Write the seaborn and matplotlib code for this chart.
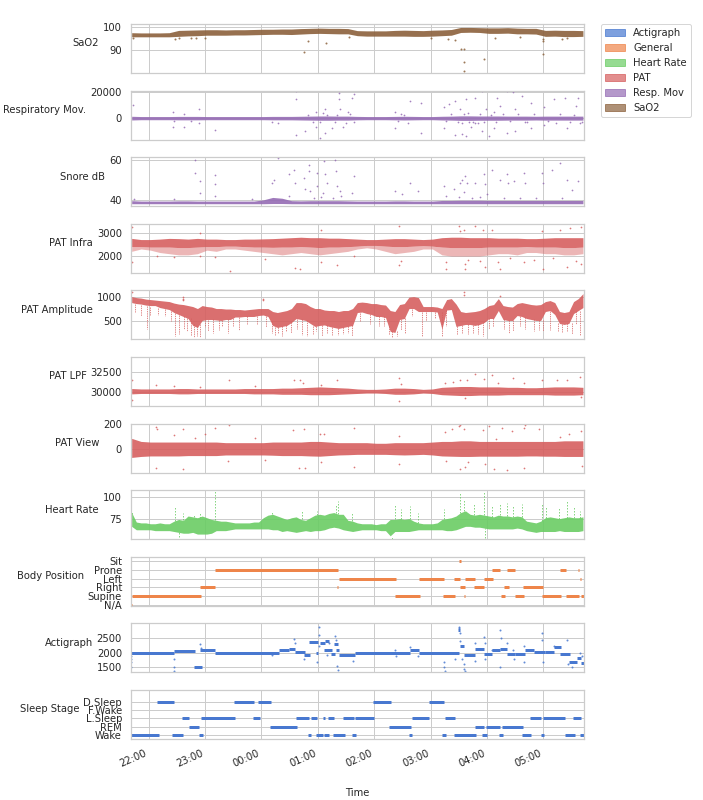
import numpy as np
import pandas as pd
import matplotlib
matplotlib.use('Agg')
import matplotlib.pyplot as plt
import matplotlib.dates as mdates
from matplotlib.patches import Patch
import seaborn as sns

sns.set_theme(style='whitegrid', palette='muted')
pal = sns.color_palette('muted')
C_ACT, C_GEN, C_HR, C_PAT, C_RESP, C_SAO2 = pal[0], pal[1], pal[2], pal[3], pal[4], pal[5]

# times are minutes relative to 22:00
T0 = pd.Timestamp('2021-03-01 22:00')
T_START, T_END = -18.7, 463.6
M10 = np.arange(-18, 463, 10)   # 10-minute sample grid
M5 = np.arange(-18, 463, 5)     # 5-minute sample grid

# ── SaO2 ────────────────────────────────────────────────────────────────────
sao2_hi = [97.6, 97.5, 97.5, 97.5, 97.6, 98.6, 98.7, 98.8, 98.9, 98.9,
           98.8, 98.9, 98.9, 99.0, 99.1, 99.1, 99.2, 99.2, 99.4, 99.5,
           99.6, 99.5, 99.5, 99.4, 98.5, 98.4, 98.4, 98.4, 98.6, 98.7,
           98.6, 98.5, 98.7, 98.8, 99.0, 99.9, 99.9, 99.8, 99.7, 99.7,
           99.8, 99.6, 99.5, 99.5, 98.6, 98.7, 98.6, 98.6, 98.5]
sao2_lo = [95.8, 95.8, 95.8, 95.8, 95.8, 96.0, 96.2, 96.3, 96.5, 96.5,
           96.5, 96.6, 96.6, 96.7, 96.8, 96.9, 96.9, 96.8, 97.0, 97.2,
           97.3, 97.2, 97.1, 97.1, 96.3, 96.1, 96.1, 96.1, 96.1, 96.1,
           96.0, 96.0, 96.1, 96.3, 96.5, 97.7, 97.8, 97.7, 97.3, 97.3,
           97.4, 97.1, 97.1, 97.0, 96.0, 96.1, 95.9, 95.9, 96.0]
sao2_out = [(165, 89.1), (170, 94.0), (189, 93.1), (332, 90.3), (336, 90.3),
            (336, 85.0), (336, 80.9), (357, 85.9), (419, 94.9), (419, 88.1),
            (45, 95.2), (60, 95.5), (213, 95.8), (300, 95.5), (318, 95.0),
            (326, 94.5), (368, 95.5), (420, 94.0), (440, 95.0), (-17, 95.4),
            (28, 95.0), (32, 95.3), (50, 95.4), (395, 95.6), (445, 95.3)]

# ── Respiratory movement ────────────────────────────────────────────────────
resp_hi = [1300, 1100, 1100, 1100, 1100, 1200, 1200, 1200, 1100, 1100,
           1100, 1100, 1100, 1100, 1100, 1200, 1200, 1200, 1300, 1400,
           1500, 1500, 1400, 1400, 1200, 1100, 1100, 1100, 1200, 1300,
           1200, 1100, 1100, 1300, 1400, 1600, 1600, 1500, 1500, 1500,
           1400, 1400, 1400, 1300, 1400, 1400, 1400, 1400, 1400]
resp_lo = [-1500, -1300, -1300, -1300, -1300, -1400, -1400, -1400, -1300, -1300,
           -1300, -1300, -1300, -1300, -1300, -1400, -1400, -1400, -1500, -1600,
           -1700, -1700, -1600, -1600, -1400, -1300, -1300, -1300, -1400, -1500,
           -1400, -1300, -1300, -1500, -1600, -1800, -1800, -1700, -1700, -1700,
           -1600, -1600, -1600, -1500, -1600, -1600, -1600, -1600, -1600]
resp_out = [(-17, 10000), (26, 4900), (26, -6600), (38, 3200), (38, -6600),
            (54, 6800), (54, -4100), (71, -9000), (131, -2900), (138, -4100),
            (157, 20200), (157, 14100), (157, -12700), (166, -10200), (178, 4400),
            (178, -6600), (182, -15100), (182, -2900), (188, 6800), (188, -11500),
            (195, -7800), (200, 2000), (203, 19000), (203, 14100), (204, 6800),
            (207, -6600), (212, 4400), (216, 15400), (219, 17800), (219, -2900),
            (262, 4400), (262, -7800), (269, 3200), (276, -4100), (278, 12900),
            (290, 11700), (290, -11500), (314, 8000), (314, -7800), (319, 10500),
            (326, 12900), (326, -12700), (331, 6800), (333, -12200), (333, -4100),
            (338, 14100), (338, -13900), (343, -6600), (347, 15400), (347, -4100),
            (355, 20200), (355, -10200), (359, 6800), (362, -13900), (367, 4400),
            (367, -7800), (371, 15400), (374, 9300), (381, 20200), (381, -11500),
            (388, 19500), (390, 6800), (390, -10200), (397, 16600), (400, -2900),
            (407, 11700), (407, -7800), (421, 8000), (421, -5400), (431, 14100),
            (433, -4100), (443, 15400), (445, -7800), (455, 9300), (457, 15400),
            (459, -4100), (340, 4000), (350, -3500), (185, 3500), (210, -3500),
            (27, -2500), (45, -2600), (170, 2600), (175, -2800), (190, 2400),
            (198, -3000), (214, 2800), (265, -2500), (272, 2600), (316, -2600),
            (322, 2900), (329, -3200), (336, 2700), (341, -2800), (345, -3400),
            (352, 3100), (357, -2700), (364, 2500), (370, -3000), (377, 2800),
            (384, -2600), (393, 3000), (403, -2900), (410, 2700), (425, -2600),
            (438, 2800), (448, -3000), (452, 2600), (461, -2800)]

# ── Snore ───────────────────────────────────────────────────────────────────
snore_hi = [39.8, 39.6, 39.6, 39.6, 39.6, 39.7, 39.7, 39.6, 39.6, 39.6,
            39.6, 39.6, 39.6, 39.6, 40.2, 41.4, 41.0, 39.8, 39.7, 39.8,
            39.8, 39.8, 39.8, 39.7, 39.6, 39.6, 39.6, 39.6, 39.7, 39.7,
            39.6, 39.6, 39.6, 39.9, 39.9, 40.0, 40.0, 40.0, 39.9, 39.9,
            39.9, 39.9, 39.9, 39.9, 39.9, 39.9, 39.9, 39.9, 39.9]
snore_lo = [38.3, 38.3, 38.3, 38.3, 38.3, 38.3, 38.3, 38.3, 38.3, 38.3,
            38.3, 38.3, 38.3, 38.3, 38.3, 38.4, 38.4, 38.3, 38.3, 38.3,
            38.3, 38.3, 38.3, 38.3, 38.3, 38.3, 38.3, 38.3, 38.3, 38.3,
            38.3, 38.3, 38.3, 38.3, 38.3, 38.3, 38.3, 38.3, 38.3, 38.3,
            38.3, 38.3, 38.3, 38.3, 38.3, 38.3, 38.3, 38.3, 38.3]
snore_out = [(-16, 40.8), (26.6, 40.8), (49.6, 59.7), (49.6, 53.5), (55, 49.4),
             (55, 43.7), (70.9, 52.2), (70.9, 47.8), (70.9, 42.1), (110, 40.5),
             (131, 48.6), (133, 50.2), (138, 60.8), (149, 52.7), (149, 42.1),
             (155, 55.1), (156, 48.6), (165, 51.0), (166.7, 45.4), (171, 57.6),
             (171, 54.3), (179, 53.5), (179, 47.0), (187, 59.2), (188, 52.7),
             (190, 48.6), (198, 60.0), (199, 54.3), (200, 47.0), (204, 44.6),
             (218, 51.9), (216, 43.7), (262, 44.6), (269.5, 42.9), (278, 48.6),
             (287, 44.6), (314, 47.0), (316, 42.1), (324.5, 45.4), (331.5, 48.6),
             (333, 50.2), (337, 51.9), (338.6, 48.6), (346.8, 48.6), (357, 52.7),
             (358, 47.8), (365, 55.1), (374, 50.2), (381, 52.7), (382, 48.6),
             (389, 49.4), (399, 53.5), (400.7, 48.6), (418, 53.5), (420, 48.6),
             (429, 55.1), (438, 58.4), (445, 50.2), (456.7, 49.4), (335, 44.0),
             (172, 44.5), (186, 43.5), (205, 42.0), (360, 43.0), (450, 45.0),
             (176, 41.0), (183, 41.5), (196, 41.2), (330, 41.5), (344, 41.0),
             (352, 41.4), (378, 41.0), (395, 41.2), (412, 41.0), (440, 41.3)]

# ── PAT Infra ───────────────────────────────────────────────────────────────
infra_hi = [2750, 2700, 2700, 2720, 2750, 2740, 2720, 2750, 2720, 2720,
            2700, 2700, 2720, 2720, 2730, 2740, 2760, 2780, 2800, 2780,
            2780, 2760, 2760, 2740, 2720, 2700, 2700, 2720, 2740, 2740,
            2720, 2700, 2720, 2780, 2800, 2800, 2780, 2780, 2780, 2760,
            2760, 2760, 2740, 2740, 2760, 2780, 2780, 2780, 2780]
infra_lo = [2400, 2400, 2380, 2380, 2380, 2360, 2360, 2380, 2400, 2400,
            2420, 2420, 2400, 2380, 2380, 2370, 2380, 2380, 2400, 2380,
            2360, 2380, 2380, 2400, 2420, 2450, 2450, 2420, 2400, 2400,
            2420, 2440, 2420, 2380, 2360, 2360, 2360, 2360, 2380, 2380,
            2380, 2380, 2400, 2380, 2380, 2380, 2360, 2360, 2380]
infra_fringe = [2200, 2300, 2250, 2150, 2100, 2050, 2050, 2100, 2250, 2200,
                2300, 2300, 2250, 2200, 2150, 2100, 2050, 2100, 2150, 2100,
                2050, 2100, 2150, 2200, 2300, 2350, 2300, 2200, 2100, 2150,
                2200, 2300, 2300, 2050, 2000, 2000, 2000, 2000, 2050, 2100,
                2100, 2050, 2150, 2150, 2100, 2100, 2050, 2050, 2100]
infra_out = [(-18, 3240), (-18, 1735), (9, 2010), (27, 1945), (55, 2990),
             (55, 2010), (71, 1945), (87, 1360), (124, 1875), (156, 1485),
             (161, 1430), (183, 3125), (183, 1735), (200, 1600), (218, 2010),
             (266, 3290), (266, 1600), (269, 1800), (316, 1735), (316, 1460),
             (330, 3265), (331, 3055), (336, 3125), (337, 1665), (337, 1460),
             (347, 3290), (356, 3125), (358, 1525), (365, 3125), (372, 1735),
             (374, 1460), (399, 1735), (418, 3055), (420, 1460), (438, 3125),
             (445, 1525), (448, 3195), (460, 3240), (460, 1665), (340, 1850),
             (352, 1800), (384, 1900), (410, 1850), (430, 1900), (455, 1800)]

# ── PAT Amplitude (5-minute grid) ───────────────────────────────────────────
amp_hi = [1000, 980, 970, 950, 940, 930, 920, 910, 900, 870,
          850, 840, 820, 800, 760, 820, 800, 790, 760, 760,
          750, 750, 740, 740, 730, 740, 750, 760, 760, 760,
          700, 680, 700, 720, 760, 880, 880, 860, 800, 760,
          760, 730, 720, 720, 700, 720, 720, 760, 880, 890,
          880, 860, 860, 840, 830, 720, 700, 840, 860, 990,
          1000, 980, 800, 800, 800, 790, 760, 940, 960, 850,
          700, 680, 690, 700, 720, 760, 820, 840, 960, 820,
          800, 790, 860, 880, 860, 840, 830, 840, 900, 920,
          880, 700, 680, 700, 900, 960, 1060]
amp_lo = [880, 860, 850, 830, 820, 820, 780, 760, 740, 680,
          640, 600, 560, 420, 380, 520, 540, 540, 530, 520,
          540, 540, 590, 590, 600, 600, 600, 620, 630, 600,
          420, 380, 400, 420, 480, 560, 540, 520, 460, 400,
          420, 430, 400, 380, 360, 380, 400, 420, 680, 690,
          660, 640, 600, 600, 580, 300, 280, 540, 560, 760,
          760, 700, 700, 700, 700, 690, 350, 730, 740, 400,
          420, 440, 440, 420, 440, 480, 560, 560, 720, 540,
          520, 520, 620, 600, 560, 540, 520, 520, 700, 720,
          640, 460, 440, 460, 660, 720, 780]
amp_dips = [(-2, 820, 350), (28, 680, 200), (32, 640, 250), (45, 560, 200),
            (48, 450, 190), (51, 400, 200), (55, 450, 190), (69, 540, 260),
            (85, 540, 260), (96, 590, 330), (131, 500, 260), (142, 400, 200),
            (152, 480, 260), (163, 540, 230), (168, 520, 200), (184, 420, 200),
            (190, 430, 260), (202, 360, 230), (216, 420, 200), (259, 300, 180),
            (264, 300, 200), (273, 560, 270), (291, 700, 200), (312, 690, 200),
            (333, 420, 260), (356, 480, 200), (383, 520, 260), (410, 540, 300),
            (427, 720, 330), (450, 460, 250), (459, 720, 220),
            (-14, 850, 700), (-8, 830, 600), (2, 800, 640), (10, 770, 640),
            (18, 750, 600), (24, 720, 500), (38, 600, 350), (41, 560, 300),
            (60, 520, 380), (63, 530, 300), (75, 520, 330), (78, 520, 400),
            (90, 560, 400), (105, 600, 450), (115, 600, 450), (125, 600, 380),
            (135, 380, 230), (138, 380, 260), (146, 420, 300), (158, 540, 350),
            (175, 400, 250), (178, 400, 300), (195, 380, 230), (207, 380, 250),
            (212, 400, 260), (225, 680, 500), (235, 650, 450), (245, 600, 400),
            (250, 600, 400), (256, 400, 230), (268, 540, 330), (280, 760, 600),
            (295, 700, 500), (305, 700, 560), (316, 730, 400), (328, 400, 220),
            (340, 440, 250), (345, 430, 260), (350, 440, 250), (362, 560, 350),
            (366, 560, 380), (378, 540, 350), (388, 520, 300), (395, 600, 400),
            (400, 580, 350), (415, 520, 330), (420, 520, 300), (435, 460, 300),
            (440, 440, 280), (445, 460, 300), (455, 720, 450)]
amp_out = [(37, 1000), (37, 960), (37, 930), (122, 960), (122, 930),
           (336, 1090), (336, 1040), (374, 1020), (-18, 1100)]

# ── PAT LPF ─────────────────────────────────────────────────────────────────
lpf_hi = [30450, 30400, 30400, 30400, 30400, 30450, 30450, 30400, 30400, 30400,
          30400, 30400, 30450, 30450, 30450, 30450, 30500, 30500, 30550, 30600,
          30650, 30600, 30550, 30500, 30400, 30350, 30350, 30400, 30500, 30500,
          30450, 30350, 30400, 30600, 30650, 30700, 30700, 30650, 30650, 30650,
          30600, 30600, 30550, 30550, 30600, 30650, 30650, 30650, 30600]
lpf_lo = [29800, 29850, 29850, 29850, 29850, 29800, 29800, 29850, 29850, 29850,
          29850, 29850, 29850, 29800, 29800, 29800, 29750, 29750, 29750, 29700,
          29700, 29700, 29750, 29800, 29850, 29900, 29900, 29850, 29750, 29750,
          29800, 29900, 29850, 29700, 29650, 29600, 29600, 29650, 29650, 29650,
          29700, 29700, 29700, 29700, 29700, 29650, 29650, 29650, 29700]
lpf_out = [(-18, 31470), (-18, 29090), (8, 30870), (27, 30750), (55, 30670),
           (86, 31470), (113, 30750), (155, 31470), (161, 31470), (164, 31150),
           (183, 30870), (200, 31470), (266, 31750), (266, 28890), (269, 30950),
           (315, 31070), (324, 31270), (331, 31470), (337, 29290), (339, 31470),
           (347, 32180), (357, 31670), (365, 32140), (372, 31100), (388, 31750),
           (399, 31150), (418, 31470), (434, 31470), (445, 31470), (459, 31870),
           (460, 29400)]

# ── PAT View ────────────────────────────────────────────────────────────────
view_hi = [85, 60, 55, 55, 55, 55, 55, 55, 55, 55,
           50, 50, 50, 50, 50, 55, 55, 55, 55, 60,
           60, 55, 50, 50, 50, 50, 45, 45, 50, 50,
           50, 50, 55, 60, 60, 65, 65, 60, 60, 60,
           60, 60, 60, 60, 60, 60, 65, 65, 65]
view_lo = [-70, -62, -58, -58, -58, -58, -55, -55, -55, -55,
           -50, -50, -50, -50, -50, -52, -55, -55, -55, -58,
           -60, -55, -50, -48, -45, -45, -45, -45, -48, -50,
           -48, -45, -50, -58, -60, -62, -62, -60, -60, -60,
           -60, -60, -58, -58, -60, -60, -62, -62, -62]
view_out = [(8, 179), (9, 157), (8, -155), (26.6, 109), (37, 157), (37, -168),
            (49, 91), (60, 117), (71, 171), (86, 197), (85, -96), (113, 91),
            (124, -91), (154, 149), (160, -155), (165, 157), (166, -155),
            (182, 117), (183, -109), (187, 117), (218, 171), (218, -149),
            (266, 104), (266, -123), (315, 139), (316, -96), (323, 157),
            (330, 184), (331, 197), (336, 165), (331, -163), (337, -149),
            (340, -109), (356, 152), (358, -123), (362, 184), (367, -163),
            (369, 77), (376, 171), (381, -176), (386, 144), (399, 171),
            (400, 197), (399, -157), (415, 157), (438, 99), (447, 117),
            (460, 144), (461, -136)]

# ── Heart rate (5-minute grid) ──────────────────────────────────────────────
hr_hi = [82, 71, 70, 70, 69, 69, 70, 69, 69, 72,
         74, 73, 78, 77, 76, 78, 76, 74, 73, 72,
         72, 71, 70, 70, 70, 70, 71, 71, 76, 79,
         80, 78, 76, 74, 76, 77, 74, 73, 76, 79,
         80, 79, 81, 82, 80, 80, 73, 72, 70, 69,
         69, 69, 68, 69, 69, 74, 74, 75, 74, 75,
         72, 70, 69, 69, 69, 70, 74, 75, 76, 78,
         82, 84, 80, 79, 80, 79, 78, 77, 79, 78,
         78, 77, 78, 77, 72, 71, 70, 72, 76, 77,
         76, 75, 76, 77, 76, 76, 77]
hr_lo = [66, 62, 62, 62, 62, 61, 61, 61, 61, 60,
         59, 58, 58, 59, 57, 57, 57, 58, 61, 61,
         61, 62, 63, 63, 63, 63, 63, 63, 63, 63,
         62, 62, 60, 61, 60, 59, 60, 61, 60, 61,
         61, 62, 64, 65, 64, 62, 61, 60, 61, 62,
         62, 62, 62, 61, 61, 55, 60, 60, 60, 60,
         61, 62, 62, 62, 62, 62, 62, 61, 61, 62,
         64, 66, 66, 65, 65, 64, 63, 63, 63, 63,
         63, 63, 64, 63, 61, 60, 59, 60, 60, 60,
         60, 61, 60, 60, 60, 60, 61]
hr_streaks = [(-18, 80, 84), (27.7, 72, 89.8), (37, 73, 82), (48, 77, 80),
              (55, 76, 82), (71, 73, 106.8), (131, 80, 84), (163, 74, 84),
              (179, 79, 84), (199, 82, 91.7), (202, 80, 95.5), (216, 72, 82),
              (262, 74, 91.7), (269, 75, 86), (278, 75, 89.8), (287, 70, 82),
              (314, 74, 86), (331, 82, 105.7), (335, 84, 97.3), (346, 79, 91.7),
              (357, 79, 106.8), (365, 77, 89.8), (374, 79, 91.7), (381, 78, 93.5),
              (388, 77, 89.8), (397, 77, 91.7), (418, 72, 93.5), (423, 76, 88),
              (436, 75, 88), (445, 76, 95.5), (452, 76, 88), (459, 76, 84),
              (259, 51, 55), (358, 52, 64), (32, 54, 59)]

# ── Body position segments (start, end, position) ──────────────────────────
body_levels = ['N/A', 'Supine', 'Right', 'Left', 'Prone', 'Sit']
body_segments = [(-18.6, -17.8, 'N/A'), (-17.7, 56.0, 'Supine'), (55.0, 70.9, 'Right'),
                 (70.2, 201.4, 'Prone'), (200.8, 202.0, 'Right'), (202.5, 263.1, 'Left'),
                 (262.4, 288.6, 'Supine'), (287.9, 314.5, 'Left'), (313.1, 325.5, 'Supine'),
                 (324.5, 331.2, 'Left'), (330.6, 331.8, 'Sit'), (331.5, 336.9, 'Right'),
                 (336.0, 337.0, 'Supine'), (336.9, 347.5, 'Left'), (346.4, 357.1, 'Right'),
                 (357.1, 366.7, 'Left'), (365.2, 374.1, 'Prone'), (374.4, 375.2, 'Left'),
                 (374.8, 379.4, 'Supine'), (378.4, 383.0, 'Right'), (381.2, 390.0, 'Prone'),
                 (390.0, 399.6, 'Supine'), (398.6, 419.5, 'Right'), (418.8, 438.6, 'Supine'),
                 (437.9, 444.3, 'Prone'), (443.6, 457.4, 'Supine'), (456.9, 457.9, 'Prone'),
                 (459.2, 460.0, 'Left'), (460.0, 463.8, 'Supine')]

# ── Actigraph segments (start, end, level) and scattered samples ───────────
act_segments = [(-18.4, 27.3, 2000), (27.3, 49.6, 2045), (47.9, 56.7, 1510),
                (55.0, 70.9, 2090), (70.9, 138.3, 2000), (138.3, 148.9, 2100),
                (148.9, 156.0, 2145), (156.0, 166.7, 2030), (165.6, 172.0, 1935),
                (170.2, 179.8, 2380), (178.5, 180.5, 2000), (181.9, 187.9, 2330),
                (188.0, 191.5, 2410), (186.9, 195.0, 2110), (194.0, 198.6, 1970),
                (196.8, 201.4, 2300), (199.0, 202.5, 2110), (203.0, 219.9, 1935),
                (219.9, 278.4, 2000), (278.4, 287.2, 2090), (287.2, 329.8, 2000),
                (329.6, 331.4, 2780), (331.5, 335.0, 2220), (336.0, 346.8, 1935),
                (346.8, 356.4, 2130), (356.4, 365.2, 1970), (365.2, 374.1, 2080),
                (374.1, 381.2, 2120), (381.2, 390.0, 1970), (390.0, 400.7, 1970),
                (400.7, 409.6, 2110), (409.6, 422.0, 2030), (422.0, 430.8, 2020),
                (430.8, 439.0, 2200), (438.0, 448.6, 1970), (446.8, 455.7, 1700),
                (455.7, 460.3, 1835), (460.3, 463.8, 1635)]
act_out = [(-18.4, 1670), (-18.4, 1500), (-18.4, 1890), (-18.2, 1780), (27.3, 1780),
           (27.3, 1500), (27.5, 1390), (55, 2310), (56, 2170), (131, 1910),
           (155, 2470), (156, 2330), (165, 1780), (181, 2890), (181.5, 2610),
           (181, 2220), (179, 1670), (191.5, 2330), (190, 1910), (198.6, 2580),
           (199.3, 2440), (200, 1560), (201, 1420), (217, 1720), (262, 2110),
           (263, 1890), (278, 2190), (287, 1890), (314, 1670), (314, 1500),
           (315, 1390), (326, 1780), (330.5, 2870), (330.5, 2830), (330.8, 2670),
           (331.5, 2390), (333, 1780), (335, 1610), (336, 1440), (336.5, 1380),
           (346.8, 2330), (347.5, 1720), (356.4, 2530), (357.5, 2330), (357.5, 1780),
           (365, 2110), (374, 2780), (375, 2500), (374, 1500), (381, 2330),
           (388, 2110), (389, 1780), (399, 2220), (399, 1670), (418, 2670),
           (418, 2440), (419, 1670), (431, 2220), (445, 2440), (446, 1610),
           (450, 1500), (459, 2000), (461, 1890)]

# ── Sleep stage segments (start, end, stage) ───────────────────────────────
sleep_levels = ['Wake', 'REM', 'L.Sleep', 'F.Wake', 'D.Sleep']
sleep_segments = [(-18.4, 10.6, 'Wake'), (24.8, 36.2, 'Wake'), (53.2, 57.4, 'Wake'),
                  (169.5, 173.0, 'Wake'), (178.4, 185.8, 'Wake'), (186.9, 192.2, 'Wake'),
                  (195.7, 208.5, 'Wake'), (216.3, 220.9, 'Wake'), (276.9, 280.5, 'Wake'),
                  (312.0, 316.6, 'Wake'), (325.2, 348.6, 'Wake'), (354.6, 359.6, 'Wake'),
                  (372.7, 377.3, 'Wake'), (397.2, 406.4, 'Wake'), (417.0, 420.9, 'Wake'),
                  (442.5, 453.2, 'Wake'), (458.9, 463.8, 'Wake'),
                  (35.5, 43.3, 'L.Sleep'), (56.0, 92.2, 'L.Sleep'), (111.0, 118.1, 'L.Sleep'),
                  (156.4, 170.2, 'L.Sleep'), (172.3, 179.1, 'L.Sleep'), (185.1, 187.6, 'L.Sleep'),
                  (190.8, 196.8, 'L.Sleep'), (207.1, 218.1, 'L.Sleep'), (219.9, 240.1, 'L.Sleep'),
                  (280.1, 298.6, 'L.Sleep'), (315.6, 326.2, 'L.Sleep'), (405.3, 417.7, 'L.Sleep'),
                  (419.8, 443.3, 'L.Sleep'), (451.1, 459.6, 'L.Sleep'),
                  (8.9, 26.6, 'D.Sleep'), (91.1, 111.7, 'D.Sleep'), (116.3, 130.1, 'D.Sleep'),
                  (238.6, 257.4, 'D.Sleep'), (298.2, 313.8, 'D.Sleep'),
                  (43.3, 53.9, 'REM'), (128.7, 157.4, 'REM'), (255.7, 278.7, 'REM'),
                  (347.2, 356.4, 'REM'), (358.5, 373.8, 'REM'), (375.9, 398.2, 'REM'),
                  (463.0, 463.8, 'F.Wake')]

LEGEND = [('Actigraph', C_ACT), ('General', C_GEN), ('Heart Rate', C_HR),
          ('PAT', C_PAT), ('Resp. Mov', C_RESP), ('SaO2', C_SAO2)]


def at(m):
    return T0 + pd.to_timedelta(np.asarray(m, dtype=float), unit='min')


def band(ax, m, lo, hi, color, alpha=0.9):
    ax.fill_between(at(m), lo, hi, color=color, alpha=alpha, linewidth=0)


def dots(ax, pts, color, s=4):
    m, v = zip(*pts)
    sns.scatterplot(x=at(m), y=list(v), ax=ax, color=color, s=s,
                    linewidth=0, alpha=0.85, legend=False)


def streaks(ax, rows, color, lw=0.8, ls='-'):
    m, a, b = zip(*rows)
    ax.vlines(at(m), a, b, color=color, linewidth=lw, linestyles=ls, alpha=0.8)


def segments(ax, rows, color, lw=3):
    s, e, y = zip(*rows)
    ax.hlines(y, at(s), at(e), color=color, linewidth=lw)


fig, axes = plt.subplots(11, 1, sharex=True, figsize=(703 / 72, 800 / 72), dpi=72)
fig.subplots_adjust(left=0.1863, right=0.8314, top=0.97, bottom=0.0763, hspace=0.36)

# SaO2
ax = axes[0]
band(ax, M10, sao2_lo, sao2_hi, C_SAO2)
dots(ax, sao2_out, C_SAO2)
ax.set_ylim(80.0, 101.4)
ax.set_yticks([90, 100])
ax.set_ylabel('SaO2')

# Respiratory
ax = axes[1]
band(ax, M10, resp_lo, resp_hi, C_RESP)
dots(ax, resp_out, C_RESP, s=3)
ax.set_ylim(-16300, 20700)
ax.set_yticks([0, 20000])
ax.set_ylabel('Respiratory Mov.')

# Snore
ax = axes[2]
band(ax, M10, snore_lo, snore_hi, C_RESP)
dots(ax, snore_out, C_RESP, s=3)
ax.set_ylim(37.1, 61.2)
ax.set_yticks([40, 60])
ax.set_ylabel('Snore dB')

# PAT Infra
ax = axes[3]
band(ax, M10, infra_fringe, infra_lo, C_PAT, alpha=0.45)
band(ax, M10, infra_lo, infra_hi, C_PAT)
dots(ax, infra_out, C_PAT, s=3)
ax.set_ylim(1290, 3370)
ax.set_yticks([2000, 3000])
ax.set_ylabel('PAT Infra')

# PAT Amplitude
ax = axes[4]
band(ax, M5, amp_lo, amp_hi, C_PAT)
streaks(ax, amp_dips, C_PAT, lw=0.9, ls=(0, (1.5, 1)))
dots(ax, amp_out, C_PAT, s=3)
ax.set_ylim(140, 1125)
ax.set_yticks([500, 1000])
ax.set_ylabel('PAT Amplitude')

# PAT LPF
ax = axes[5]
band(ax, M10, lpf_lo, lpf_hi, C_PAT)
dots(ax, lpf_out, C_PAT, s=3)
ax.set_ylim(28330, 34290)
ax.set_yticks([30000, 32500])
ax.set_ylabel('PAT LPF')

# PAT View
ax = axes[6]
band(ax, M10, view_lo, view_hi, C_PAT)
dots(ax, view_out, C_PAT, s=3)
ax.set_ylim(-193, 205)
ax.set_yticks([0, 200])
ax.set_ylabel('PAT View')

# Heart rate
ax = axes[7]
band(ax, M5, hr_lo, hr_hi, C_HR)
streaks(ax, hr_streaks, C_HR, lw=1.0, ls=(0, (1.5, 1.5)))
ax.set_ylim(51.1, 108)
ax.set_yticks([75, 100])
ax.set_ylabel('Heart Rate')

# Body position
ax = axes[8]
segments(ax, [(s, e, body_levels.index(p)) for s, e, p in body_segments], C_GEN)
ax.set_ylim(-0.07, 5.45)
ax.set_yticks(range(len(body_levels)))
ax.set_yticklabels(body_levels)
ax.set_ylabel('Body Position')

# Actigraph
ax = axes[9]
segments(ax, act_segments, C_ACT)
dots(ax, act_out, C_ACT, s=4)
ax.set_ylim(1333, 3000)
ax.set_yticks([1500, 2000, 2500])
ax.set_ylabel('Actigraph')

# Sleep stage
ax = axes[10]
segments(ax, [(s, e, sleep_levels.index(p)) for s, e, p in sleep_segments], C_ACT)
ax.set_ylim(-0.48, 5.45)
ax.set_yticks(range(len(sleep_levels)))
ax.set_yticklabels(sleep_levels)
ax.set_ylabel('Sleep Stage')

for ax in axes:
    ax.yaxis.label.set_rotation(0)
    ax.yaxis.label.set_horizontalalignment('right')
    ax.tick_params(axis='both', labelsize=10, pad=3)
    ax.yaxis.label.set_size(10)

axes[-1].set_xlim(at(T_START), at(T_END))
axes[-1].xaxis.set_major_locator(mdates.HourLocator())
axes[-1].xaxis.set_major_formatter(mdates.DateFormatter('%H:%M'))
plt.setp(axes[-1].get_xticklabels(), rotation=24, ha='right')
axes[-1].set_xlabel('Time', fontsize=10, labelpad=19)

handles = [Patch(facecolor=c, edgecolor=c, alpha=0.7, label=l) for l, c in LEGEND]
axes[0].legend(handles=handles, loc='upper left', bbox_to_anchor=(1.037, 1.0),
               borderaxespad=0, fontsize=10)

fig.savefig('out.png', dpi=72)
